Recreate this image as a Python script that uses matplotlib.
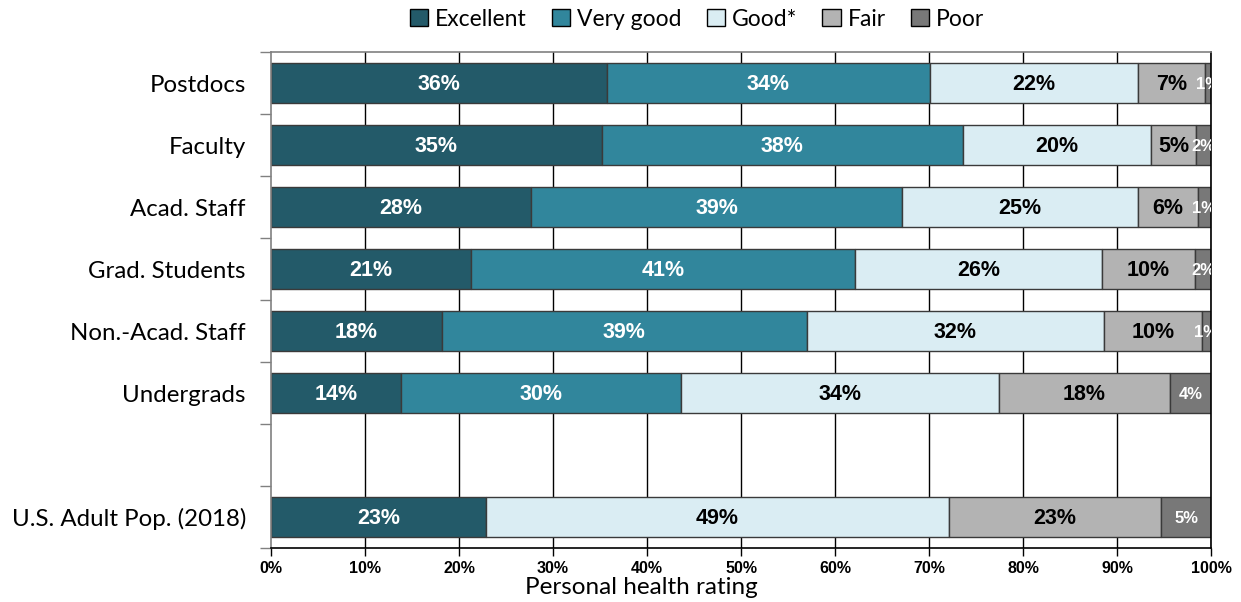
import matplotlib
matplotlib.use("Agg")
import matplotlib.pyplot as plt
from matplotlib.patches import Patch
import numpy as np

categories = ["Postdocs", "Faculty", "Acad. Staff", "Grad. Students",
              "Non.-Acad. Staff", "Undergrads", "", "U.S. Adult Pop. (2018)"]
series_names = ["Excellent", "Very good", "Good*", "Fair", "Poor"]
excellent = [35.7, 35.2, 27.7, 21.3, 18.2, 13.8, 0, 22.9]
very_good = [34.4, 38.4, 39.4, 40.8, 38.8, 29.8, 0, 0]
good      = [22.1, 20.0, 25.1, 26.3, 31.6, 33.8, 0, 49.2]
fair      = [7.2, 4.8, 6.4, 9.9, 10.4, 18.2, 0, 22.6]
poor      = [0.6, 1.6, 1.4, 1.7, 1.0, 4.4, 0, 5.3]
xticks = [0, 10, 20, 30, 40, 50, 60, 70, 80, 90, 100]

colors = ["#235A69", "#31869C", "#DAEDF3", "#B3B3B3", "#787878"]
label_colors = ["white", "white", "black", "black", "white"]
label_sizes = [15.5, 15.5, 15.5, 15.5, 12]

W, H = 1241, 602
fig = plt.figure(figsize=(W / 100, H / 100), dpi=100)
ax = fig.add_axes([271 / W, 1 - 548 / H, (1211 - 271) / W, (548 - 52) / H])

y = np.arange(len(categories))
data = [excellent, very_good, good, fair, poor]
left = np.zeros(len(categories))

ax.set_xlim(0, 100)
ax.set_ylim(len(categories) - 0.5, -0.5)
for xv in xticks[1:]:
    ax.axvline(xv, color="black", lw=1.0, zorder=0)

for s, vals in enumerate(data):
    vals = np.array(vals, dtype=float)
    mask = vals > 0
    ax.barh(y[mask], vals[mask], left=left[mask], height=0.66, color=colors[s],
            edgecolor="#3a3a3a", linewidth=1.0, zorder=2)
    for i, v in enumerate(vals):
        if v > 0:
            ax.text(left[i] + v / 2, y[i] + 0.03, f"{round(v)}%", ha="center", va="center",
                    color=label_colors[s], fontsize=label_sizes[s], fontweight="bold",
                    family="Liberation Sans", zorder=3, clip_on=True)
    left = left + vals

# category labels
ax.set_yticks(y)
ax.set_yticklabels(categories, family="Lato", fontsize=17.3)
ax.tick_params(axis="y", which="major", length=0, pad=18)
ax.set_yticks(np.arange(-0.5, len(categories)), minor=True)
ax.tick_params(axis="y", which="minor", length=8, color="#808080", width=1)

ax.set_xticks(xticks)
ax.set_xticklabels([f"{v}%" for v in xticks], family="Liberation Sans",
                   fontsize=11.5, fontweight="bold")
ax.tick_params(axis="x", length=6, width=1, color="black", pad=3.5)

for side in ["left", "top"]:
    ax.spines[side].set_color("#808080")
ax.spines["right"].set_color("black")
ax.spines["bottom"].set_color("black")
for sp in ax.spines.values():
    sp.set_linewidth(1.2)

fig.text(641 / W, 1 - 588 / H, "Personal health rating", ha="center", va="center",
         family="Lato", fontsize=17.5)

handles = [Patch(facecolor=c, edgecolor="black", linewidth=1) for c in colors]
fig.legend(handles, series_names, loc="center", bbox_to_anchor=(697 / W, 1 - 19 / H),
           ncol=5, frameon=False, prop={"family": "Lato", "size": 16.5},
           handlelength=0.8, handleheight=0.8, handletextpad=0.3, columnspacing=1.1)

fig.savefig("out.png", dpi=100)
